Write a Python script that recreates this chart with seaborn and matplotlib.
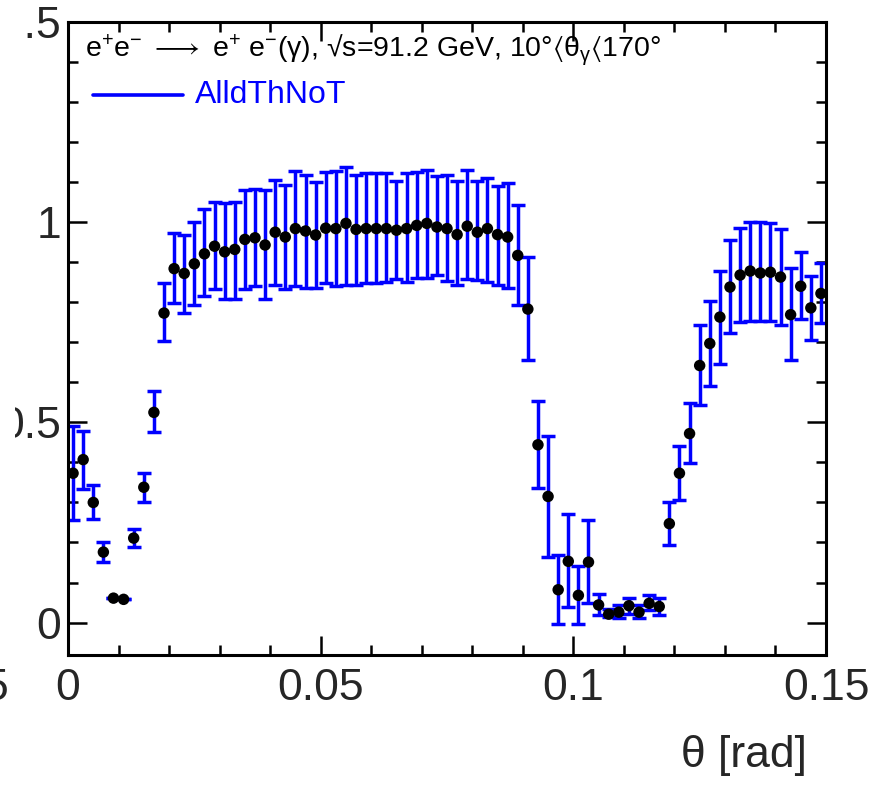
import numpy as np
import pandas as pd
import matplotlib
matplotlib.use('Agg')
import matplotlib.pyplot as plt
from matplotlib.patches import Rectangle
from matplotlib.ticker import MultipleLocator, FixedLocator
import seaborn as sns

# bin centres (rad), bin width 0.002
theta = [0.001, 0.003, 0.005, 0.007, 0.009, 0.011, 0.013, 0.015, 0.017, 0.019,
         0.021, 0.023, 0.025, 0.027, 0.029, 0.031, 0.033, 0.035, 0.037, 0.039,
         0.041, 0.043, 0.045, 0.047, 0.049, 0.051, 0.053, 0.055, 0.057, 0.059,
         0.061, 0.063, 0.065, 0.067, 0.069, 0.071, 0.073, 0.075, 0.077, 0.079,
         0.081, 0.083, 0.085, 0.087, 0.089, 0.091, 0.093, 0.095, 0.097, 0.099,
         0.101, 0.103, 0.105, 0.107, 0.109, 0.111, 0.113, 0.115, 0.117, 0.119,
         0.121, 0.123, 0.125, 0.127, 0.129, 0.131, 0.133, 0.135, 0.137, 0.139,
         0.141, 0.143, 0.145, 0.147, 0.149]

value = [0.373, 0.407, 0.300, 0.176, 0.061, 0.058, 0.211, 0.338, 0.525, 0.773,
         0.884, 0.872, 0.896, 0.921, 0.940, 0.926, 0.932, 0.957, 0.961, 0.943,
         0.975, 0.963, 0.984, 0.978, 0.968, 0.985, 0.984, 0.997, 0.982, 0.984,
         0.984, 0.984, 0.980, 0.984, 0.992, 0.997, 0.988, 0.984, 0.969, 0.990,
         0.975, 0.984, 0.969, 0.963, 0.917, 0.783, 0.444, 0.315, 0.082, 0.153,
         0.068, 0.151, 0.044, 0.021, 0.026, 0.042, 0.026, 0.048, 0.040, 0.247,
         0.373, 0.472, 0.642, 0.697, 0.763, 0.838, 0.868, 0.878, 0.873, 0.875,
         0.863, 0.769, 0.840, 0.786, 0.822]

# upper / lower ends of the error bars
value_hi = [0.492, 0.479, 0.344, 0.200, 0.061, 0.058, 0.233, 0.373, 0.578, 0.847,
            0.973, 0.967, 1.000, 1.032, 1.051, 1.048, 1.051, 1.080, 1.083, 1.080,
            1.105, 1.092, 1.128, 1.117, 1.100, 1.125, 1.128, 1.138, 1.119, 1.123,
            1.123, 1.123, 1.103, 1.122, 1.125, 1.130, 1.115, 1.119, 1.103, 1.130,
            1.103, 1.111, 1.090, 1.097, 1.042, 0.913, 0.553, 0.465, 0.169, 0.272,
            0.142, 0.255, 0.072, 0.033, 0.044, 0.061, 0.044, 0.069, 0.061, 0.300,
            0.442, 0.548, 0.742, 0.803, 0.878, 0.955, 0.986, 1.000, 1.000, 0.998,
            0.982, 0.885, 0.925, 0.865, 0.898]

value_lo = [0.255, 0.333, 0.258, 0.152, 0.061, 0.058, 0.188, 0.302, 0.475, 0.703,
            0.797, 0.773, 0.794, 0.815, 0.833, 0.809, 0.809, 0.832, 0.840, 0.807,
            0.844, 0.833, 0.840, 0.836, 0.836, 0.848, 0.840, 0.844, 0.844, 0.848,
            0.848, 0.850, 0.857, 0.850, 0.861, 0.861, 0.867, 0.852, 0.842, 0.857,
            0.855, 0.850, 0.844, 0.836, 0.794, 0.655, 0.336, 0.165, -0.003, 0.038,
            -0.003, 0.048, 0.019, 0.015, 0.011, 0.022, 0.011, 0.032, 0.019, 0.194,
            0.307, 0.398, 0.544, 0.592, 0.647, 0.723, 0.750, 0.753, 0.753, 0.753,
            0.744, 0.655, 0.757, 0.707, 0.748]

x_ticks = [0, 0.05, 0.1, 0.15]
x_ticklabels = ['0', '0.05', '0.1', '0.15']
y_ticks = [0, 0.5, 1, 1.5]
y_ticklabels = ['0', '0.5', '1', '1.5']

df = pd.DataFrame({'theta': theta, 'value': value, 'hi': value_hi, 'lo': value_lo})

sns.set_theme(style='ticks')
plt.rcParams['font.family'] = ['Liberation Sans', 'DejaVu Sans']
plt.rcParams['mathtext.fontset'] = 'custom'
plt.rcParams['mathtext.rm'] = 'Liberation Sans'
plt.rcParams['mathtext.it'] = 'Liberation Sans'
plt.rcParams['mathtext.fallback'] = 'stixsans'

fig = plt.figure(figsize=(8.85, 7.86), dpi=100)
ax = fig.add_axes([68 / 885, 1 - 655 / 786, 758 / 885, 633 / 786])

blue = '#0000ff'
yerr = np.vstack([df['value'] - df['lo'], df['hi'] - df['value']])
ax.errorbar(df['theta'], df['value'], yerr=yerr, fmt='none', ecolor=blue,
            elinewidth=2.5, capsize=4.8, capthick=2.5, zorder=2)
sns.scatterplot(data=df, x='theta', y='value', color='black', s=68,
                edgecolor='none', linewidth=0, ax=ax, zorder=3)

ax.set_xlim(0, 0.15)
ax.set_ylim(-0.081, 1.5)
ax.set_xlabel('')
ax.set_ylabel('')

ax.xaxis.set_major_locator(FixedLocator(x_ticks))
ax.set_xticklabels(x_ticklabels)
ax.xaxis.set_minor_locator(MultipleLocator(0.01))
ax.yaxis.set_major_locator(FixedLocator(y_ticks))
ax.set_yticklabels(y_ticklabels)
ax.yaxis.set_minor_locator(MultipleLocator(0.1))

ax.tick_params(which='both', direction='in', top=True, right=True, width=1.8,
               color='black')
ax.tick_params(which='major', length=14, labelsize=32, pad=5)
ax.tick_params(which='minor', length=7)
ax.tick_params(axis='x', which='major', pad=9)
for sp in ax.spines.values():
    sp.set_linewidth(2.2)
    sp.set_color('black')

# the original crop hides the left edge of the y labels
fig.patches.append(Rectangle((0, 1 - 655 / 786), 15 / 885, 655 / 786,
                             transform=fig.transFigure, facecolor='white',
                             edgecolor='none', zorder=5))
fig.patches.append(Rectangle((0, 1 - 45 / 786), 24 / 885, 45 / 786,
                             transform=fig.transFigure, facecolor='white',
                             edgecolor='none', zorder=5))

# axis title, right-aligned like ROOT
fig.text(807 / 885, 1 - 756 / 786, 'θ [rad]', fontsize=32, ha='right', va='center')
# stray label cut at the left edge of the original crop
fig.text(8 / 885, 1 - 688 / 786, '5', fontsize=32, ha='right', va='center')

# legend drawn ROOT-style, no frame
header = (r'e$^{+}$e$^{-}$ $\longrightarrow$ e$^{+}$ e$^{-}$($\gamma$), √s=91.2 GeV, '
          r'10°$\langle\theta_{\gamma}\langle$170°')
ax.text(0.022, 0.955, header, transform=ax.transAxes, fontsize=20.5,
        ha='left', va='center', color='black')
ax.plot([0.033, 0.152], [0.885, 0.885], transform=ax.transAxes, color=blue,
        lw=2.6, clip_on=False)
ax.text(0.167, 0.885, 'AlldThNoT', transform=ax.transAxes, fontsize=23,
        ha='left', va='center', color=blue)

fig.savefig('out.png', dpi=100)
